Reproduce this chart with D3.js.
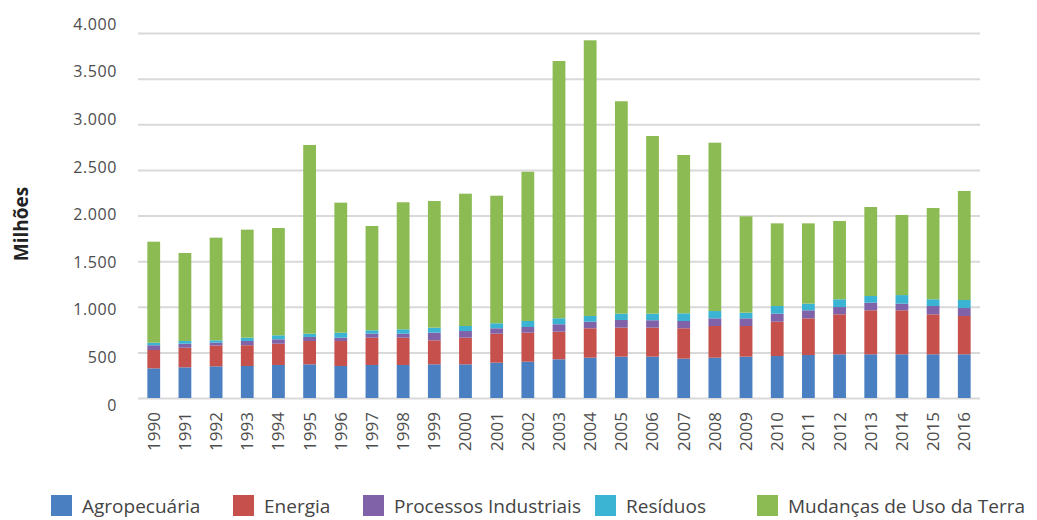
<!DOCTYPE html>
<html>
<head>
<meta charset="utf-8">
<script src="https://cdn.jsdelivr.net/npm/d3@7"></script>
<style>
  body { margin: 0; background: #fff; }
  text { font-family: "Open Sans", sans-serif; }
</style>
</head>
<body>
<div id="chart"></div>
<script>
// Width and height
var chart_width  = 1037;
var chart_height = 520;

// data (millions)
var years = ["1990","1991","1992","1993","1994","1995","1996","1997","1998","1999",
             "2000","2001","2002","2003","2004","2005","2006","2007","2008","2009",
             "2010","2011","2012","2013","2014","2015","2016"];
var agropecuaria = [325,336,347,351,362,369,351,362,362,369,369,387,398,424,442,453,453,431,442,453,460,471,479,479,479,479,479];
var energia      = [201,215,228,227,233,256,274,299,299,263,292,318,318,303,322,318,318,333,347,336,376,402,438,482,482,438,420];
var processos    = [52,44,31,47,48,44,36,44,44,84,73,59,62,81,72,84,81,80,84,84,88,88,80,83,73,91,87];
var residuos     = [28,30,26,36,44,36,55,37,48,55,55,55,66,66,63,69,72,84,80,62,84,73,85,74,94,74,88];
var mudancas     = [1107,964,1125,1184,1176,2068,1425,1143,1392,1388,1450,1398,1636,2819,3021,2328,1947,1735,1845,1056,906,880,858,975,878,1000,1195];

var series_names  = ["Agropecuária","Energia","Processos Industriais","Resíduos","Mudanças de Uso da Terra"];
var series_colors = ["#4a7fc1","#c5504c","#7f62a8","#3bb3d3","#8dbb53"];
var y_ticks = [0,500,1000,1500,2000,2500,3000,3500,4000];

// table for the stack
var rows = years.map(function(y, i){
  return {
    year: y,
    "Agropecuária": agropecuaria[i],
    "Energia": energia[i],
    "Processos Industriais": processos[i],
    "Resíduos": residuos[i],
    "Mudanças de Uso da Terra": mudancas[i]
  };
});

var stacked = d3.stack().keys(series_names)(rows);

// scales
var x = d3.scaleBand()
    .domain(years)
    .range([138, 980])
    .paddingInner(0.59)
    .paddingOuter(0.3);

var y = d3.scaleLinear()
    .domain([0, 4000])
    .range([398, 33]);

// labels sit on a slightly wider spacing than the grid
var y_lab = d3.scaleLinear()
    .domain([0, 4000])
    .range([405, 24]);

var color = d3.scaleOrdinal()
    .domain(series_names)
    .range(series_colors);

// Create SVG
var svg = d3.select("#chart")
    .append("svg")
    .attr("width", chart_width)
    .attr("height", chart_height);

// gridlines
svg.append("g")
    .attr("transform", "translate(138,0)")
    .call(d3.axisLeft(y).tickValues(y_ticks).tickSize(-842).tickFormat(""))
    .call(function(g){
      g.select(".domain").remove();
      g.selectAll("line").attr("stroke", "#d9d9d9").attr("stroke-width", 2);
    });

// y labels
svg.append("g")
    .attr("transform", "translate(117,0)")
    .call(d3.axisLeft(y_lab).tickValues(y_ticks).tickSize(0).tickPadding(0)
      .tickFormat(function(d){ return d3.format(",")(d).replace(/,/g, "."); }))
    .call(function(g){
      g.select(".domain").remove();
      g.selectAll("text")
        .attr("fill", "#4d4d4d")
        .style("font-size", "16px")
        .style("letter-spacing", "0.6px")
        .style("font-family", "'Open Sans', sans-serif");
    });

// bars
svg.append("g")
  .selectAll("g")
  .data(stacked)
  .enter()
  .append("g")
  .attr("fill", function(d){ return color(d.key); })
  .selectAll("rect")
  .data(function(d){ return d; })
  .enter()
  .append("rect")
  .attr("x", function(d){ return x(d.data.year); })
  .attr("y", function(d){ return y(d[1]); })
  .attr("height", function(d){ return y(d[0]) - y(d[1]); })
  .attr("width", x.bandwidth());

// x labels, rotated
svg.append("g")
    .attr("transform", "translate(0,408)")
    .call(d3.axisBottom(x).tickSize(0).tickPadding(0))
    .call(function(g){
      g.select(".domain").remove();
      g.selectAll("text")
        .attr("transform", "rotate(-90)")
        .attr("x", -4)
        .attr("y", 0)
        .attr("dy", "0.35em")
        .attr("text-anchor", "end")
        .attr("fill", "#4d4d4d")
        .style("font-size", "17px")
        .style("font-family", "'Open Sans', sans-serif");
    });

// axis title
svg.append("text")
    .attr("transform", "translate(28,224) rotate(-90)")
    .attr("text-anchor", "middle")
    .attr("fill", "#222")
    .style("font-size", "19px")
    .style("font-weight", "bold")
    .text("Milhões");

// legend
var legend_x = [51, 233, 363, 595, 757];
var legend = svg.append("g")
  .selectAll("g")
  .data(series_names)
  .enter()
  .append("g")
  .attr("transform", function(d, i){ return "translate(" + legend_x[i] + ",495)"; });

legend.append("rect")
  .attr("width", 21)
  .attr("height", 21)
  .attr("fill", function(d){ return color(d); });

legend.append("text")
  .attr("x", 31)
  .attr("y", 18)
  .attr("fill", "#444")
  .style("font-size", "19px")
  .text(function(d){ return d; });
</script>
</body>
</html>
